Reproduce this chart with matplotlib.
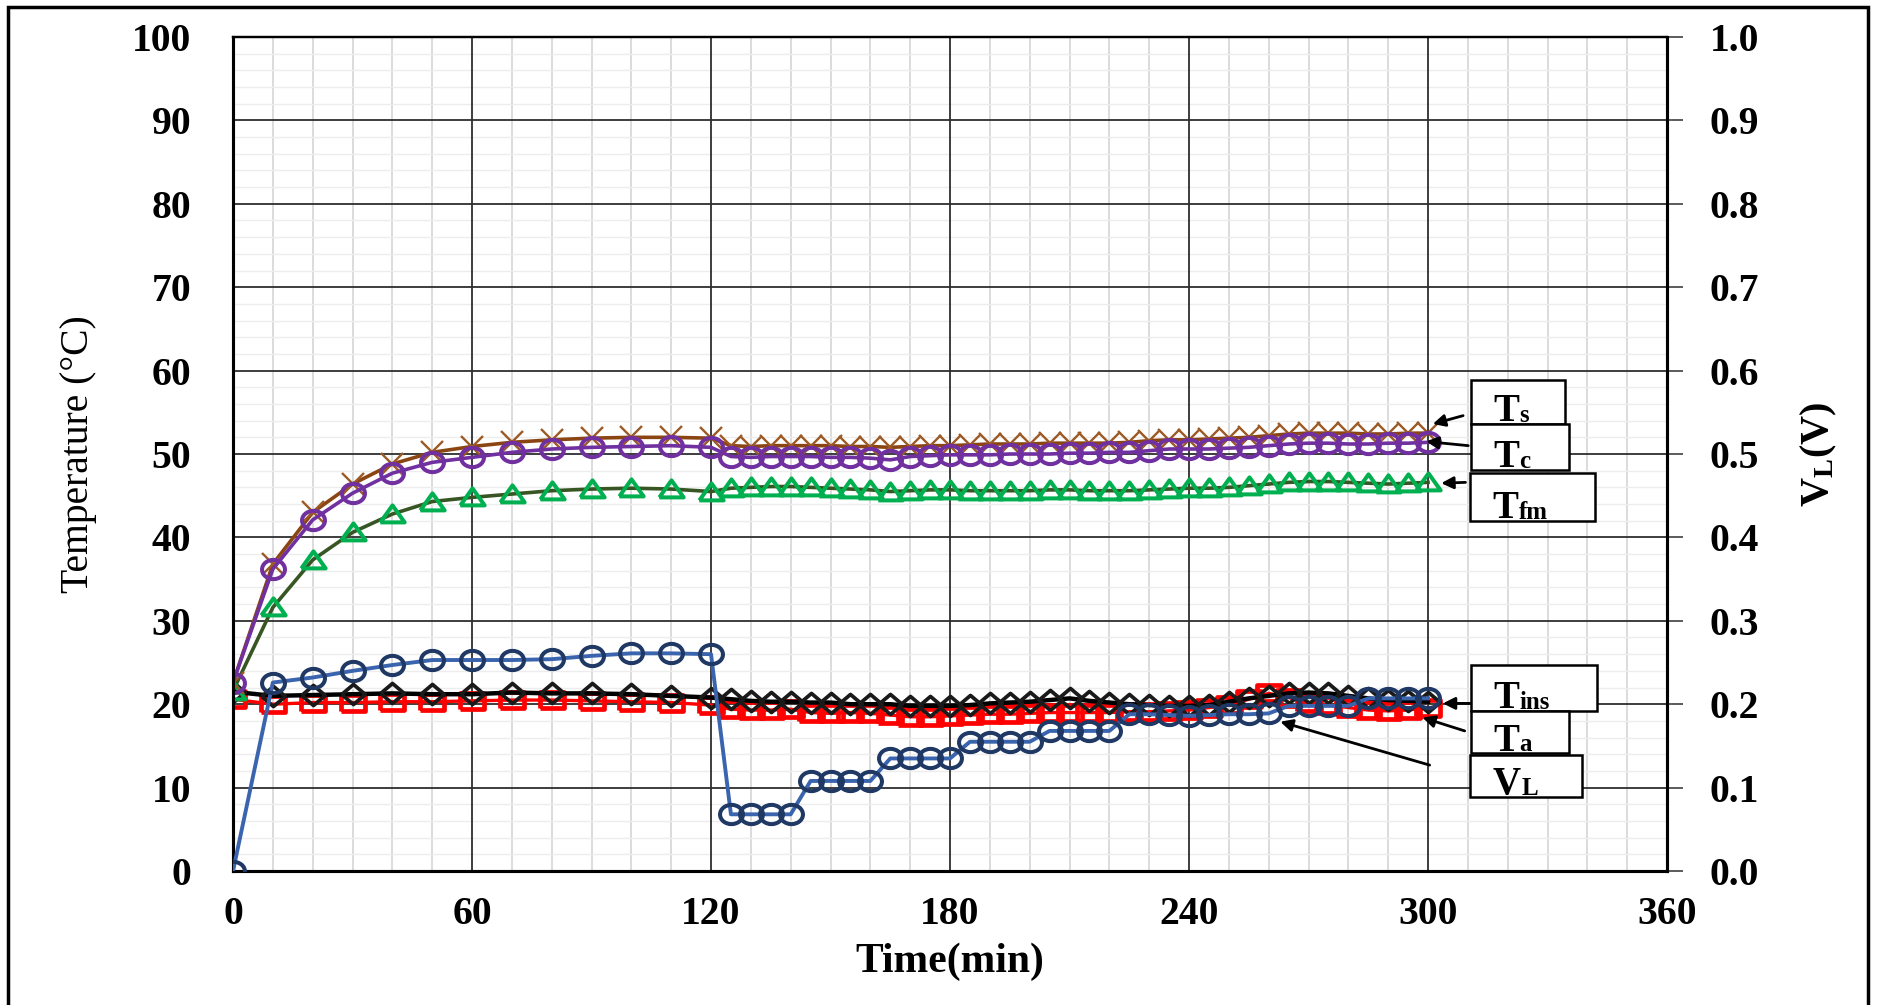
import matplotlib
matplotlib.use("Agg")
import matplotlib.pyplot as plt
from matplotlib.path import Path
from matplotlib.patches import Rectangle
from matplotlib.ticker import MultipleLocator, FormatStrFormatter

plt.rcParams['font.family'] = ['Liberation Serif', 'DejaVu Serif']
plt.rcParams['font.weight'] = 'bold'
plt.rcParams['mathtext.fontset'] = 'custom'
plt.rcParams['mathtext.rm'] = 'Liberation Serif:bold'
plt.rcParams['mathtext.bf'] = 'Liberation Serif:bold'
plt.rcParams['mathtext.it'] = 'Liberation Serif:bold'

# sampling times (min)
time = [0, 10, 20, 30, 40, 50, 60, 70, 80, 90, 100, 110, 120,
        125, 130, 135, 140, 145, 150, 155, 160, 165, 170, 175, 180,
        185, 190, 195, 200, 205, 210, 215, 220, 225, 230, 235, 240,
        245, 250, 255, 260, 265, 270, 275, 280, 285, 290, 295, 300]

# temperatures (degC)
Ts = [22.6, 36.8, 43.0, 46.4, 48.8, 50.2, 50.9, 51.4, 51.7, 51.9, 52.0, 52.0, 51.9,
      51.0, 50.9, 51.0, 51.0, 51.0, 51.0, 50.9, 50.9, 50.8, 50.9, 51.0, 51.0,
      51.1, 51.2, 51.2, 51.2, 51.3, 51.3, 51.3, 51.3, 51.4, 51.6, 51.7, 51.7,
      51.8, 51.9, 52.0, 52.2, 52.4, 52.5, 52.5, 52.5, 52.4, 52.4, 52.5, 52.5]
Tc = [22.6, 36.2, 42.1, 45.3, 47.7, 49.0, 49.6, 50.2, 50.6, 50.8, 50.9, 51.0, 50.8,
      49.7, 49.6, 49.7, 49.7, 49.7, 49.6, 49.6, 49.5, 49.3, 49.7, 49.8, 49.9,
      49.9, 49.9, 50.0, 50.0, 50.0, 50.1, 50.1, 50.2, 50.2, 50.4, 50.6, 50.6,
      50.6, 50.7, 50.8, 51.0, 51.2, 51.3, 51.3, 51.2, 51.2, 51.3, 51.3, 51.4]
Tfm = [21.6, 31.6, 37.3, 40.6, 42.8, 44.3, 44.8, 45.2, 45.6, 45.8, 45.9, 45.8, 45.5,
       45.9, 46.0, 46.1, 46.1, 46.0, 45.9, 45.8, 45.7, 45.5, 45.6, 45.7, 45.7,
       45.6, 45.6, 45.6, 45.6, 45.7, 45.7, 45.6, 45.6, 45.6, 45.7, 45.8, 45.9,
       45.9, 46.0, 46.2, 46.4, 46.6, 46.7, 46.7, 46.6, 46.5, 46.4, 46.5, 46.6]
Tins = [21.5, 21.0, 21.1, 21.2, 21.3, 21.2, 21.2, 21.4, 21.3, 21.3, 21.2, 21.0, 20.8,
        20.6, 20.4, 20.3, 20.3, 20.2, 20.2, 20.0, 20.0, 20.0, 19.8, 19.8, 19.8,
        19.9, 20.1, 20.2, 20.3, 20.5, 20.7, 20.4, 20.2, 20.0, 19.9, 19.8, 19.8,
        19.9, 20.3, 20.7, 21.0, 21.3, 21.4, 21.3, 21.0, 20.7, 20.5, 20.4, 20.3]
Ta = [20.6, 20.0, 20.2, 20.2, 20.3, 20.3, 20.4, 20.5, 20.5, 20.4, 20.3, 20.2, 19.9,
      19.4, 19.3, 19.3, 19.4, 19.0, 18.9, 19.0, 18.9, 18.7, 18.5, 18.5, 18.6,
      18.7, 18.8, 18.8, 18.9, 19.0, 19.0, 19.0, 19.0, 19.1, 19.1, 19.2, 19.3,
      19.6, 19.9, 20.6, 21.3, 20.8, 20.1, 19.9, 19.6, 19.3, 19.2, 19.3, 19.6]
# load voltage (V)
VL = [0.0, 0.226, 0.232, 0.240, 0.247, 0.253, 0.253, 0.253, 0.254, 0.258, 0.261, 0.261, 0.260,
      0.068, 0.068, 0.068, 0.068, 0.108, 0.108, 0.108, 0.108, 0.135, 0.135, 0.135, 0.135,
      0.155, 0.155, 0.155, 0.155, 0.168, 0.168, 0.168, 0.168, 0.188, 0.188, 0.187, 0.186,
      0.187, 0.188, 0.188, 0.189, 0.198, 0.198, 0.198, 0.198, 0.207, 0.207, 0.207, 0.207]

# slightly wide marker shapes
circ = Path.unit_circle()
m_circle = Path(circ.vertices * [1.0, 0.84], circ.codes)
m_square = [(-1, -0.7), (1, -0.7), (1, 0.7), (-1, 0.7), (-1, -0.7)]
m_diamond = [(-1, 0), (0, 0.85), (1, 0), (0, -0.85), (-1, 0)]
m_tri = [(-1, -0.65), (1, -0.65), (0, 0.75), (-1, -0.65)]

fig = plt.figure(figsize=(18.79, 10.05), dpi=100)
ax = fig.add_axes([0.124, 0.1333, 0.7632, 0.8299])
ax2 = ax.twinx()

ax.plot(time, Ta, color='#ff0000', lw=2.4, marker=m_square, ms=17, mfc='none',
        mec='#ff0000', mew=3.4, zorder=3)
ax.plot(time, Tins, color='#000000', lw=3.2, marker=m_diamond, ms=17, mfc='none',
        mec='#1a1a1a', mew=2.7, zorder=4)
ax.plot(time, Tfm, color='#375623', lw=2.6, marker=m_tri, ms=17.5, mfc='none',
        mec='#00b050', mew=2.9, zorder=5)
ax.plot(time, Ts, color='#8b4513', lw=2.6, marker='x', ms=16.5, mfc='none',
        mec='#9c5a26', mew=1.7, zorder=6)
ax.plot(time, Tc, color='#7030a0', lw=2.6, marker=m_circle, ms=16.5, mfc='none',
        mec='#7030a0', mew=2.9, zorder=7)
ax2.plot(time, VL, color='#3a64ad', lw=2.8, marker=m_circle, ms=16.5, mfc='none',
         mec='#1f3864', mew=2.9, zorder=3)

ax.set_xlim(0, 360)
ax.set_ylim(0, 100)
ax2.set_ylim(0, 1.0)
ax.xaxis.set_major_locator(MultipleLocator(60))
ax.xaxis.set_minor_locator(MultipleLocator(10))
ax.yaxis.set_major_locator(MultipleLocator(10))
ax.yaxis.set_minor_locator(MultipleLocator(2))
ax2.yaxis.set_major_locator(MultipleLocator(0.1))
ax2.yaxis.set_minor_locator(MultipleLocator(0.02))
ax2.yaxis.set_major_formatter(FormatStrFormatter('%.1f'))

# light minor grid underneath, solid major grid above it
ax.set_axisbelow(True)
ax.grid(which='minor', axis='x', color='#d2d2d2', lw=1.1)
ax.grid(which='minor', axis='y', color='#ededed', lw=1.0)
for xv in ax.get_xticks():
    ax.axvline(xv, color='#2e2e2e', lw=1.3, zorder=1.5)
for yv in ax.get_yticks():
    ax.axhline(yv, color='#2e2e2e', lw=1.3, zorder=1.5)

ax.tick_params(which='both', length=0)
ax.tick_params(axis='y', pad=30, labelsize=28.5)
ax.tick_params(axis='x', pad=18, labelsize=28.5)
ax2.tick_params(axis='y', which='major', length=11.5, width=1.2, color='#404040',
                direction='out', pad=19, labelsize=28.5)
ax2.tick_params(axis='y', which='minor', length=0)

for a in (ax, ax2):
    for side in ('left', 'right', 'bottom'):
        a.spines[side].set_linewidth(2.2)
    a.spines['top'].set_linewidth(1.6)

ax.set_xlabel('Time(min)', fontsize=30, fontweight='bold', va='center')
ax.xaxis.set_label_coords(0.5, -0.109)
ax.set_ylabel('Temperature (°C)', fontsize=28.5, fontweight='normal', va='center')
ax.yaxis.set_label_coords(-0.108, 0.5)
ax2.set_ylabel(r'$\mathbf{V_L(V)}$', fontsize=29, va='center')
ax2.yaxis.set_label_coords(1.106, 0.5)

# curve labels: boxed names with arrows to the curve ends
lab_main = ['T', 'T', 'T', 'T', 'T', 'V']
lab_sub = ['s', 'c', 'fm', 'ins', 'a', 'L']
box_x0 = [310.7, 310.7, 310.6, 310.7, 310.7, 310.6]
box_x1 = [334.5, 335.3, 342.0, 342.5, 335.3, 338.6]
box_y0 = [53.6, 48.1, 42.0, 19.2, 14.1, 8.9]
box_y1 = [58.9, 53.6, 47.7, 24.7, 19.2, 13.9]
arr_from = [(308.8, 54.6), (310.1, 51.0), (309.4, 46.6), (310.5, 20.1), (309.2, 16.8), (300.4, 12.7)]
arr_to = [(301.2, 53.6), (299.5, 51.5), (303.3, 46.5), (303.7, 20.1), (298.6, 18.4), (262.9, 17.9)]

for i in range(len(lab_main)):
    z = 20 + 2 * i
    ax.add_patch(Rectangle((box_x0[i], box_y0[i]), box_x1[i] - box_x0[i],
                           box_y1[i] - box_y0[i], fc='white', ec='black',
                           lw=1.8, zorder=z))
    t = ax.text(box_x0[i] + 5.6, box_y0[i] + 0.3, lab_main[i], fontsize=28,
                fontweight='bold', ha='left', va='baseline', zorder=z + 1)
    ax.annotate(lab_sub[i], xy=(1, 0), xycoords=t, xytext=(0.5, 2.6),
                textcoords='offset points', fontsize=18, fontweight='bold',
                ha='left', va='bottom', zorder=z + 1)
    ax.annotate('', xy=arr_to[i], xytext=arr_from[i],
                arrowprops=dict(arrowstyle='-|>', color='black', lw=2.0,
                                mutation_scale=18, shrinkA=0, shrinkB=0),
                zorder=19)

fig.patches.append(Rectangle((0.0045, -0.05), 0.9896, 1.043, transform=fig.transFigure,
                             fill=False, ec='black', lw=2.5))

fig.savefig('out.png', dpi=100)
